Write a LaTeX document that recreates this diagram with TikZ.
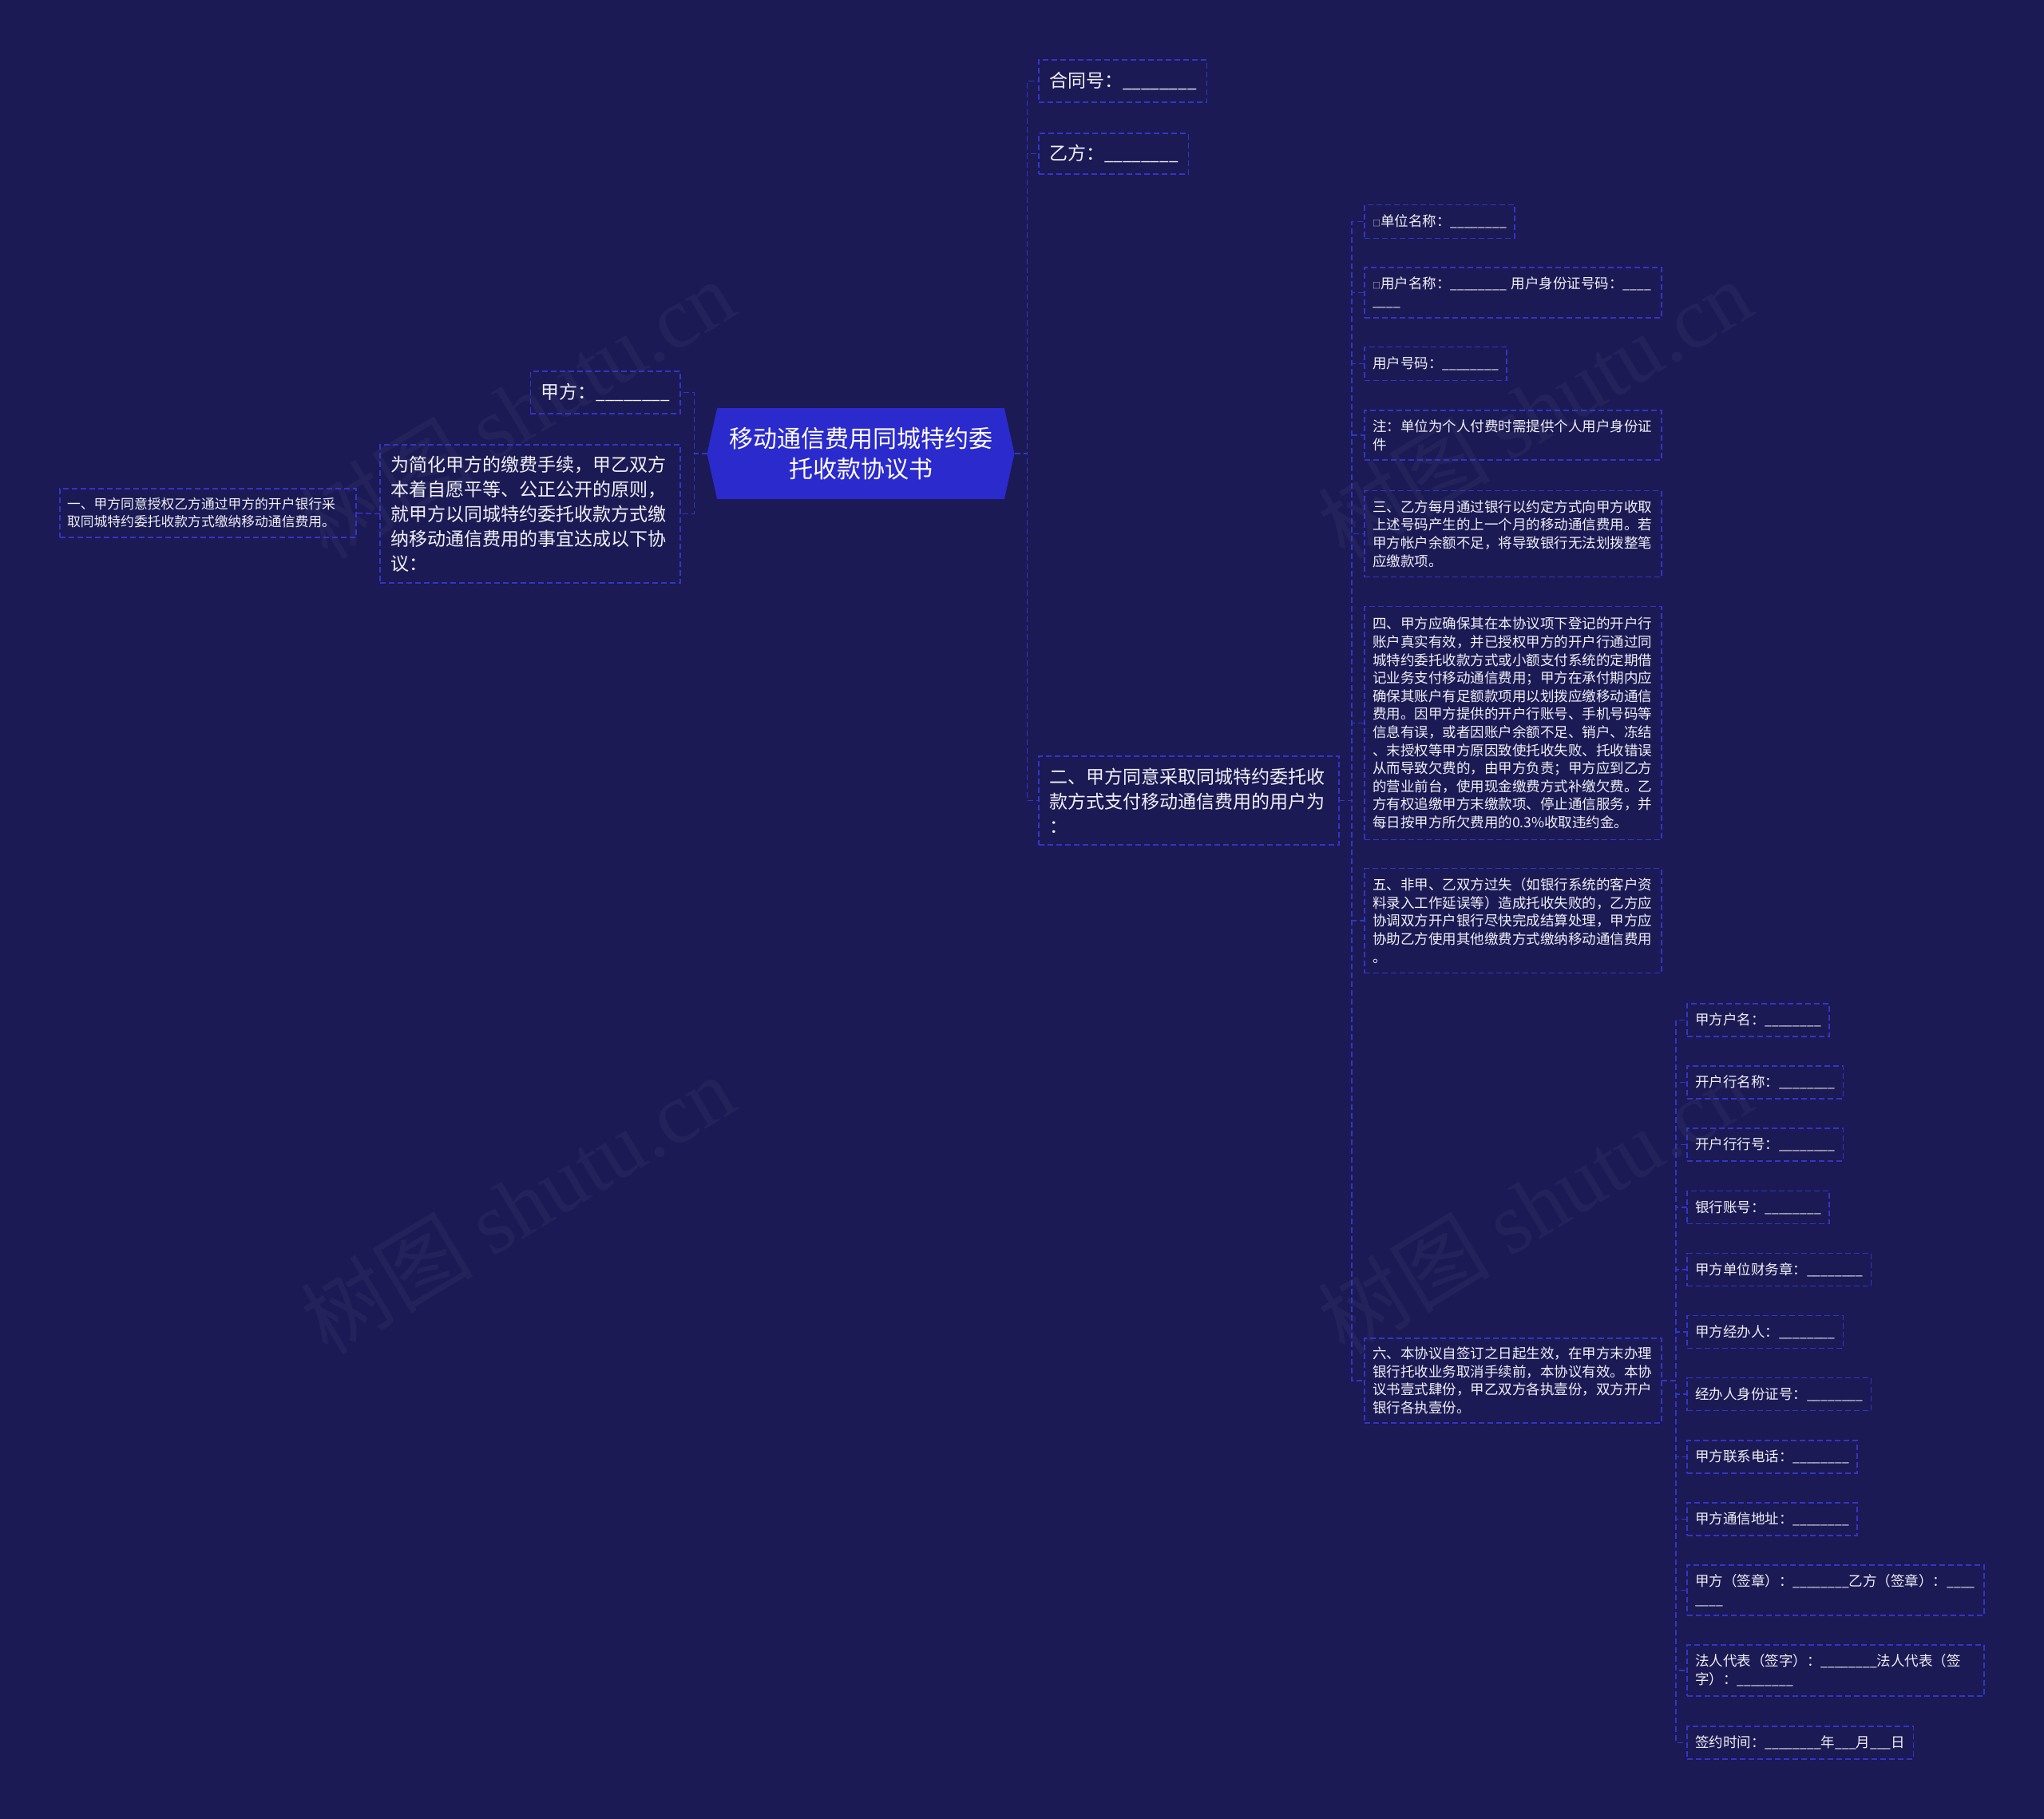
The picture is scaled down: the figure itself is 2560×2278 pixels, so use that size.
\documentclass[tikz,border=0pt]{standalone}
\usepackage{fontspec}
\usepackage{graphicx}
\setmainfont{Noto Sans CJK SC}
\newfontfamily\wmserif{Liberation Serif}
\usetikzlibrary{shapes.symbols}

\definecolor{bgnavy}{RGB}{27,26,84}
\definecolor{topicblue}{RGB}{43,42,204}
\definecolor{dashblue}{RGB}{52,52,200}
\definecolor{textwhite}{RGB}{240,240,248}

\newcommand{\blank}{\scalebox{0.9}[1]{\_\_\_\_\_\_\_\_}}
\newcommand{\halfblank}{\scalebox{0.9}[1]{\_\_\_\_}}
\newcommand{\shortblank}{\scalebox{0.9}[1]{\_\_\_}}
\newcommand{\tinybox}{{\fontsize{10}{10}\selectfont □}}

\tikzset{
  topic/.style={signal, signal to=west and east, signal pointer angle=155,
    fill=topicblue, text=white, font=\fontsize{30}{38}\selectfont, align=center,
    minimum width=385pt, minimum height=114pt, inner sep=0pt, outer sep=0pt},
  leaf/.style={draw=dashblue, line width=1.5pt, dash pattern=on 7pt off 4pt,
    text=textwhite, align=left, outer sep=0pt, inner ysep=0pt},
  lvone/.style={leaf, font=\fontsize{23}{31}\selectfont, inner xsep=13pt},
  lvtwo/.style={leaf, font=\fontsize{17.5}{22.6}\selectfont, inner xsep=10pt},
  link/.style={draw=dashblue, line width=1.5pt, dash pattern=on 7pt off 4pt},
  watermark/.style={rotate=31, text=white, text opacity=0.04,
    font=\fontsize{108}{108}\selectfont},
}

\begin{document}
\begin{tikzpicture}[x=1pt,y=-1pt]
    % Background
    \useasboundingbox (0,0) rectangle (2560,2278);
    \fill[bgnavy] (0,0) rectangle (2560,2278);

    % Watermarks
    \foreach \wx/\wy [count=\i] in {648/512, 1922/512, 648/1508, 1922/1508}
        \node[watermark] (wm\i) at (\wx,\wy) {树图 {\wmserif shutu.cn}};

    % Central topic
    \node[topic] (root) at (1078,568) {移动通信费用同城特约委\\托收款协议书};

    % Left side
    \node[lvone, anchor=east, minimum height=53] (partya) at (852,491.5) {甲方：\blank};
    \node[lvone, anchor=east, minimum height=173, text width=350pt] (preface) at (852,643.5)
        {为简化甲方的缴费手续，甲乙双方\\
         本着自愿平等、公正公开的原则，\\
         就甲方以同城特约委托收款方式缴\\
         纳移动通信费用的事宜达成以下协\\
         议：};
    \node[lvtwo, anchor=east, minimum height=61, text width=353pt, inner xsep=9pt,
        font=\fontsize{16.8}{22}\selectfont] (clauseone) at (446,642.5)
        {一、甲方同意授权乙方通过甲方的开户银行采\\
         取同城特约委托收款方式缴纳移动通信费用。};

    % Right side
    \node[lvone, anchor=west, minimum height=53] (contract) at (1301,101.5) {合同号：\blank};
    \node[lvone, anchor=west, minimum height=51] (partyb) at (1301,192.5) {乙方：\blank};
    \node[lvone, anchor=west, minimum height=111, text width=350pt] (clausetwo) at (1301,1002.5)
        {二、甲方同意采取同城特约委托收\\
         款方式支付移动通信费用的用户为\\
         ：};

    % Clause two items
    \node[lvtwo, anchor=west, minimum height=42] (unitname) at (1709,277.5) {\tinybox 单位名称：\blank};
    \node[lvtwo, anchor=west, minimum height=63, text width=352pt] (username) at (1709,366.5)
        {\tinybox 用户名称：\blank~用户身份证号码：\halfblank\\
         \halfblank};
    \node[lvtwo, anchor=west, minimum height=42] (usernum) at (1709,455.5) {用户号码：\blank};
    \node[lvtwo, anchor=west, minimum height=62, text width=352pt] (notice) at (1709,545)
        {注：单位为个人付费时需提供个人用户身份证\\
         件};
    \node[lvtwo, anchor=west, minimum height=108, text width=352pt] (clausethree) at (1709,668.5)
        {三、乙方每月通过银行以约定方式向甲方收取\\
         上述号码产生的上一个月的移动通信费用。若\\
         甲方帐户余额不足，将导致银行无法划拨整笔\\
         应缴款项。};
    \node[lvtwo, anchor=west, minimum height=292, text width=352pt] (clausefour) at (1709,905.5)
        {四、甲方应确保其在本协议项下登记的开户行\\
         账户真实有效，并已授权甲方的开户行通过同\\
         城特约委托收款方式或小额支付系统的定期借\\
         记业务支付移动通信费用；甲方在承付期内应\\
         确保其账户有足额款项用以划拨应缴移动通信\\
         费用。因甲方提供的开户行账号、手机号码等\\
         信息有误，或者因账户余额不足、销户、冻结\\
         、末授权等甲方原因致使托收失败、托收错误\\
         从而导致欠费的，由甲方负责；甲方应到乙方\\
         的营业前台，使用现金缴费方式补缴欠费。乙\\
         方有权追缴甲方末缴款项、停止通信服务，并\\
         每日按甲方所欠费用的0.3\%收取违约金。};
    \node[lvtwo, anchor=west, minimum height=131, text width=352pt] (clausefive) at (1709,1153)
        {五、非甲、乙双方过失（如银行系统的客户资\\
         料录入工作延误等）造成托收失败的，乙方应\\
         协调双方开户银行尽快完成结算处理，甲方应\\
         协助乙方使用其他缴费方式缴纳移动通信费用\\
         。};
    \node[lvtwo, anchor=west, minimum height=106, text width=352pt] (clausesix) at (1709,1729)
        {六、本协议自签订之日起生效，在甲方末办理\\
         银行托收业务取消手续前，本协议有效。本协\\
         议书壹式肆份，甲乙双方各执壹份，双方开户\\
         银行各执壹份。};

    % Clause six items
    \node[lvtwo, anchor=west, minimum height=41] (acctname) at (2113,1277.5) {甲方户名：\blank};
    \node[lvtwo, anchor=west, minimum height=41] (bankname) at (2113,1355.5) {开户行名称：\blank};
    \node[lvtwo, anchor=west, minimum height=41] (bankcode) at (2113,1433.5) {开户行行号：\blank};
    \node[lvtwo, anchor=west, minimum height=41] (bankacct) at (2113,1512) {银行账号：\blank};
    \node[lvtwo, anchor=west, minimum height=41] (seal) at (2113,1590) {甲方单位财务章：\blank};
    \node[lvtwo, anchor=west, minimum height=41] (agent) at (2113,1668) {甲方经办人：\blank};
    \node[lvtwo, anchor=west, minimum height=41] (agentid) at (2113,1746) {经办人身份证号：\blank};
    \node[lvtwo, anchor=west, minimum height=41] (phone) at (2113,1824.5) {甲方联系电话：\blank};
    \node[lvtwo, anchor=west, minimum height=41] (address) at (2113,1902.5) {甲方通信地址：\blank};
    \node[lvtwo, anchor=west, minimum height=63, text width=352pt] (signs) at (2113,1991.5)
        {甲方（签章）：\blank 乙方（签章）：\halfblank\\
         \halfblank};
    \node[lvtwo, anchor=west, minimum height=64, text width=352pt] (legalrep) at (2113,2092)
        {法人代表（签字）：\blank 法人代表（签\\
         字）：\blank};
    \node[lvtwo, anchor=west, minimum height=41] (signdate) at (2113,2182.5)
        {签约时间：\blank 年\shortblank 月\shortblank 日};

    % Links
    \foreach \kid in {contract, partyb, clausetwo}
        \draw[link] (root.east) -- ++(16,0) |- (\kid.west);
    \foreach \kid in {partya, preface}
        \draw[link] (root.west) -- ++(-16,0) |- (\kid.east);
    \draw[link] (preface.west) -- (clauseone.east);
    \foreach \kid in {unitname, username, usernum, notice, clausethree, clausefour, clausefive, clausesix}
        \draw[link] (clausetwo.east) -- ++(16,0) |- (\kid.west);
    \foreach \kid in {acctname, bankname, bankcode, bankacct, seal, agent, agentid, phone, address, signs, legalrep, signdate}
        \draw[link] (clausesix.east) -- ++(18,0) |- (\kid.west);

\end{tikzpicture}
\end{document}
